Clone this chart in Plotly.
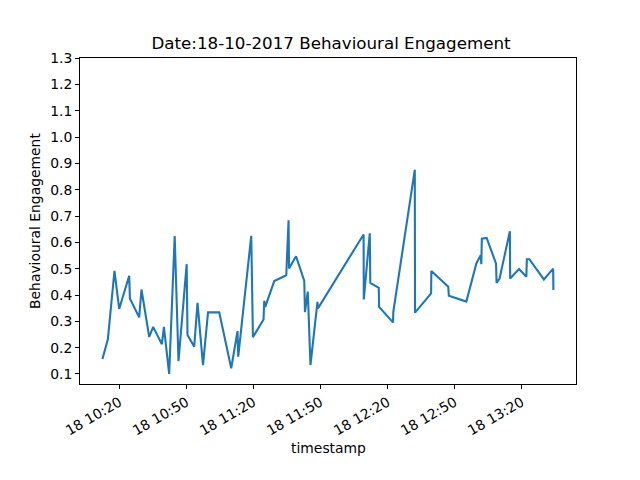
import pandas as pd
import plotly.graph_objects as go

# engagement log for 18-10-2017
times = [
    "10:12:23", "10:14:48", "10:17:46", "10:19:52", "10:24:21", "10:24:40",
    "10:28:49", "10:29:51", "10:33:18", "10:35:05", "10:38:59", "10:39:53",
    "10:42:15", "10:44:43", "10:46:25", "10:50:05", "10:50:27", "10:53:27",
    "10:54:56", "10:57:23", "10:59:38", "11:04:39", "11:10:01", "11:12:50",
    "11:13:09", "11:18:59", "11:19:44", "11:24:29", "11:24:48", "11:25:15",
    "11:29:16", "11:34:39", "11:35:41", "11:35:54", "11:39:02", "11:42:43",
    "11:43:01", "11:44:17", "11:45:29", "11:48:37", "11:48:50", "12:09:16",
    "12:09:21", "12:12:02", "12:12:16", "12:16:04", "12:16:12", "12:22:26",
    "12:22:34", "12:32:11", "12:32:17", "12:39:29", "12:39:35", "12:47:11",
    "12:47:25", "12:55:15", "12:59:44", "13:01:40", "13:01:58", "13:02:11",
    "13:04:20", "13:08:33", "13:08:47", "13:10:07", "13:14:44", "13:14:52",
    "13:18:51", "13:22:07", "13:22:20", "13:23:28", "13:29:58", "13:34:07",
    "13:34:13",
]
engagement = [
    0.157, 0.232, 0.492, 0.347, 0.473, 0.387,
    0.315, 0.421, 0.241, 0.279, 0.213, 0.279,
    0.100, 0.624, 0.149, 0.517, 0.248, 0.204,
    0.370, 0.134, 0.334, 0.334, 0.122, 0.263,
    0.166, 0.625, 0.240, 0.307, 0.378, 0.355,
    0.453, 0.475, 0.684, 0.501, 0.547, 0.453,
    0.335, 0.413, 0.134, 0.374, 0.349, 0.630,
    0.383, 0.634, 0.446, 0.427, 0.355, 0.296,
    0.336, 0.876, 0.333, 0.406, 0.491, 0.431,
    0.397, 0.375, 0.520, 0.551, 0.517, 0.614,
    0.617, 0.519, 0.446, 0.462, 0.642, 0.463,
    0.499, 0.469, 0.536, 0.536, 0.459, 0.500,
    0.419,
]
y_ticks = [round(0.1 * i, 1) for i in range(1, 14)]

ts = pd.to_datetime(["2017-10-18 " + t for t in times])

fig = go.Figure()
fig.add_trace(go.Scatter(x=ts, y=engagement, mode="lines",
                         line=dict(color="#1f77b4", width=2.1)))

font = dict(family="DejaVu Sans", size=13.9, color="black")

# page body adds an 8px offset, margins compensate for it
fig.update_layout(
    width=640, height=480,
    margin=dict(l=72, r=72, t=49.6, b=104),
    paper_bgcolor="white", plot_bgcolor="white",
    showlegend=False,
    font=font,
    title=dict(text="Date:18-10-2017 Behavioural Engagement",
               x=0.5047, xanchor="center", y=1 - 35 / 480, yanchor="middle",
               yref="container", font=dict(family="DejaVu Sans", size=16.7, color="black")),
)

fig.update_xaxes(
    range=["2017-10-18 10:02:20", "2017-10-18 13:44:20"],
    tick0="2017-10-18 10:20", dtick=30 * 60 * 1000,
    tickformat="%d %H:%M", tickangle=-30,
    ticks="outside", ticklen=4, tickwidth=1, tickcolor="black",
    showline=True, linecolor="black", linewidth=1, mirror=True,
    showgrid=False, zeroline=False,
)
fig.update_yaxes(
    range=[0.062, 1.3],
    tickvals=y_ticks, tickformat=".1f",
    ticks="outside", ticklen=4, tickwidth=1, tickcolor="black",
    showline=True, linecolor="black", linewidth=1, mirror=True,
    showgrid=False, zeroline=False,
)

fig.add_annotation(text="timestamp", xref="paper", yref="paper",
                   x=0.5, y=-(448 - 384) / 326.4, showarrow=False,
                   xanchor="center", yanchor="middle", font=font)
fig.add_annotation(text="Behavioural Engagement", xref="paper", yref="paper",
                   x=-(80 - 35) / 496, y=0.5, showarrow=False, textangle=-90,
                   xanchor="center", yanchor="middle", font=font)

fig.write_html("out.html")
